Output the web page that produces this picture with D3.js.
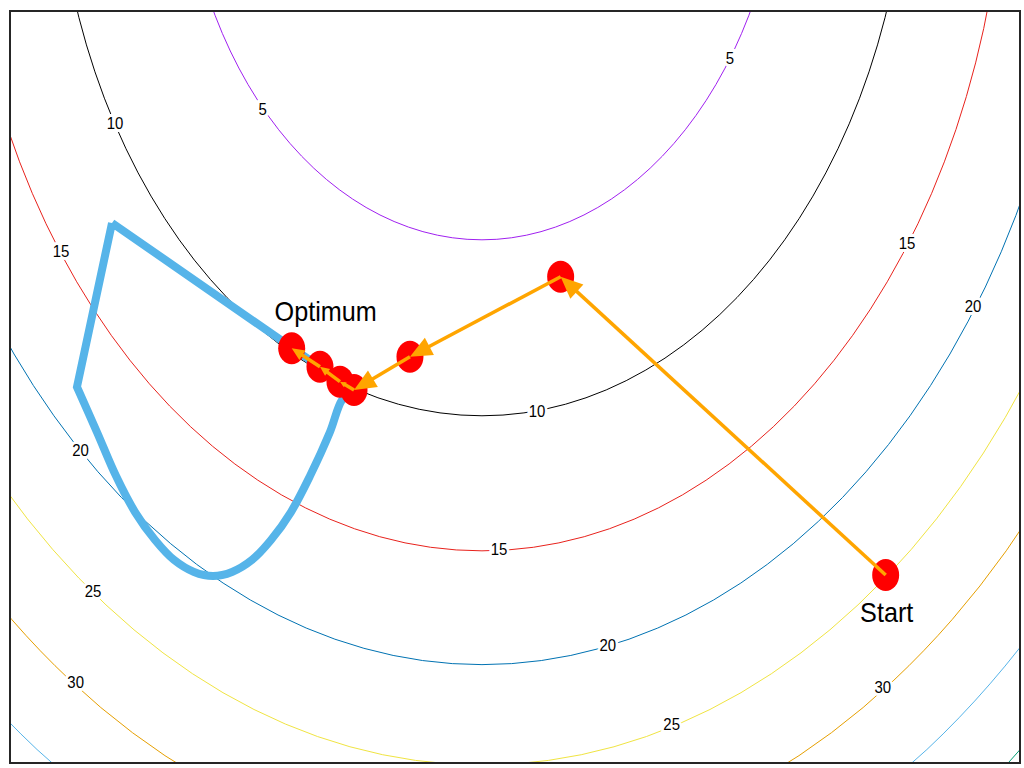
<!DOCTYPE html>
<html>
<head>
<meta charset="utf-8">
<script src="https://cdn.jsdelivr.net/npm/d3@7"></script>
<style>
  body { margin: 0; background: #fff; }
  svg { display: block; }
</style>
</head>
<body>
<svg id="chart" width="1024" height="768"></svg>
<script>
// ---------------- data ----------------
const levels      = [5, 10, 15, 20, 25, 30, 35, 40];
const levelColors = ["#A020F0", "#000000", "#E8221C", "#0072B2", "#F0E442", "#E69F00", "#56B4E9", "#009E73"];
// each contour level is an ellipse around the same centre (data units)
const contourCenterX = 4.673;
const contourCenterY = 9.455;
const contourRx = [2.997, 4.239, 5.191, 5.994, 6.701, 7.341, 7.929, 8.477];
const contourRy = [4.237, 5.992, 7.339, 8.474, 9.475, 10.378, 11.210, 11.985];

// contour labels
const labelLevel = [5, 5, 10, 10, 15, 15, 15, 20, 20, 20, 25, 25, 30, 30];
const labelX = [2.502, 7.129, 1.040, 5.218, 0.505, 4.842, 8.881, 0.698, 5.918, 9.535, 0.822, 6.551, 0.650, 8.641];
const labelY = [6.523, 7.031, 6.383, 3.511, 5.106, 2.134, 5.186, 3.122, 1.177, 4.558, 1.715, 0.386, 0.805, 0.755];

// optimisation path (Start -> ... -> Optimum)
const pathX = [8.670, 5.452, 3.960, 3.406, 3.267, 3.069, 2.789];
const pathY = [1.875, 4.850, 4.052, 3.720, 3.803, 3.952, 4.136];
const pathNames = ["Start", "", "", "", "", "", "Optimum"];

// constraint boundary (corner A, corner B, curved part, corner C, back to A)
const boundaryX = [1.010, 3.396, 3.287, 3.168, 2.970, 2.782, 2.584, 2.396, 2.198, 2.010, 1.822, 1.624, 1.436, 1.238, 1.050, 0.861, 0.663, 1.010];
const boundaryY = [5.386, 3.720, 3.620, 3.301, 2.862, 2.503, 2.224, 2.025, 1.905, 1.865, 1.905, 2.025, 2.224, 2.503, 2.862, 3.301, 3.750, 5.386];
const boundaryCorners = [0, 1, 16, 17];

// ---------------- chart ----------------
const svg = d3.select("#chart");
const x = d3.scaleLinear().domain([0, 10]).range([10, 1020]);
const y = d3.scaleLinear().domain([0, 7.5]).range([763, 11]);

const font = "'Liberation Sans', Arial, Helvetica, sans-serif";

svg.append("defs").append("clipPath").attr("id", "plotClip")
  .append("rect")
  .attr("x", x(0)).attr("y", y(7.5))
  .attr("width", x(10) - x(0)).attr("height", y(0) - y(7.5));

const plot = svg.append("g").attr("clip-path", "url(#plotClip)");

// contour ellipses
plot.append("g").selectAll("ellipse")
  .data(levels)
  .join("ellipse")
  .attr("cx", x(contourCenterX))
  .attr("cy", y(contourCenterY))
  .attr("rx", (d, i) => x(contourCenterX + contourRx[i]) - x(contourCenterX))
  .attr("ry", (d, i) => y(contourCenterY - contourRy[i]) - y(contourCenterY))
  .attr("fill", "none")
  .attr("stroke", (d, i) => levelColors[i])
  .attr("stroke-width", 1);

// contour labels (white halo breaks the line)
plot.append("g").selectAll("text")
  .data(labelLevel)
  .join("text")
  .attr("transform", (d, i) => `translate(${x(labelX[i])},${y(labelY[i])}) scale(0.88,1)`)
  .attr("text-anchor", "middle")
  .attr("dy", "0.36em")
  .attr("font-family", font)
  .attr("font-size", 17)
  .attr("fill", "#000")
  .attr("stroke", "#fff")
  .attr("stroke-width", 6)
  .attr("paint-order", "stroke")
  .text(d => d);

// constraint boundary
const bpts = [];
boundaryX.forEach((bx, i) => {
  bpts.push([bx, boundaryY[i]]);
  if (boundaryCorners.includes(i)) bpts.push([bx, boundaryY[i]]);
});
const bline = d3.line()
  .x(d => x(d[0])).y(d => y(d[1]))
  .curve(d3.curveCatmullRom.alpha(0.5));
plot.append("path")
  .attr("d", bline(bpts))
  .attr("fill", "none")
  .attr("stroke", "#56B4E9")
  .attr("stroke-width", 8)
  .attr("stroke-linejoin", "miter");

// path points
plot.append("g").selectAll("ellipse")
  .data(pathX)
  .join("ellipse")
  .attr("cx", d => x(d))
  .attr("cy", (d, i) => y(pathY[i]))
  .attr("rx", 13.5)
  .attr("ry", 16)
  .attr("fill", "#FF0000");

// arrows
const arrows = plot.append("g");
for (let i = 0; i < pathX.length - 1; i++) {
  const x0 = x(pathX[i]), y0 = y(pathY[i]);
  const x1 = x(pathX[i + 1]), y1 = y(pathY[i + 1]);
  const dx = x1 - x0, dy = y1 - y0;
  const len = Math.hypot(dx, dy);
  const ux = dx / len, uy = dy / len;
  const hl = Math.min(22, 0.38 * len);
  const hw = hl * 0.44;
  arrows.append("line")
    .attr("x1", x0).attr("y1", y0)
    .attr("x2", x1 - ux * hl * 0.6).attr("y2", y1 - uy * hl * 0.6)
    .attr("stroke", "#FFA500")
    .attr("stroke-width", 3.5);
  const bx = x1 - ux * hl, by = y1 - uy * hl;
  arrows.append("path")
    .attr("d", `M${x1},${y1}L${bx - uy * hw},${by + ux * hw}L${bx + uy * hw},${by - ux * hw}Z`)
    .attr("fill", "#FFA500");
}

// point names
const nameOffset = { "Start": [1, 47], "Optimum": [34, -27] };
svg.append("g").selectAll("text")
  .data(pathNames.map((n, i) => ({ n, i })).filter(d => d.n))
  .join("text")
  .attr("transform", d => `translate(${x(pathX[d.i]) + nameOffset[d.n][0]},${y(pathY[d.i]) + nameOffset[d.n][1]}) scale(0.9,1)`)
  .attr("text-anchor", "middle")
  .attr("font-family", font)
  .attr("font-size", 28)
  .attr("fill", "#000")
  .text(d => d.n);

// frame
svg.append("rect")
  .attr("x", x(0)).attr("y", y(7.5))
  .attr("width", x(10) - x(0)).attr("height", y(0) - y(7.5))
  .attr("fill", "none")
  .attr("stroke", "#262626")
  .attr("stroke-width", 2);
</script>
</body>
</html>
